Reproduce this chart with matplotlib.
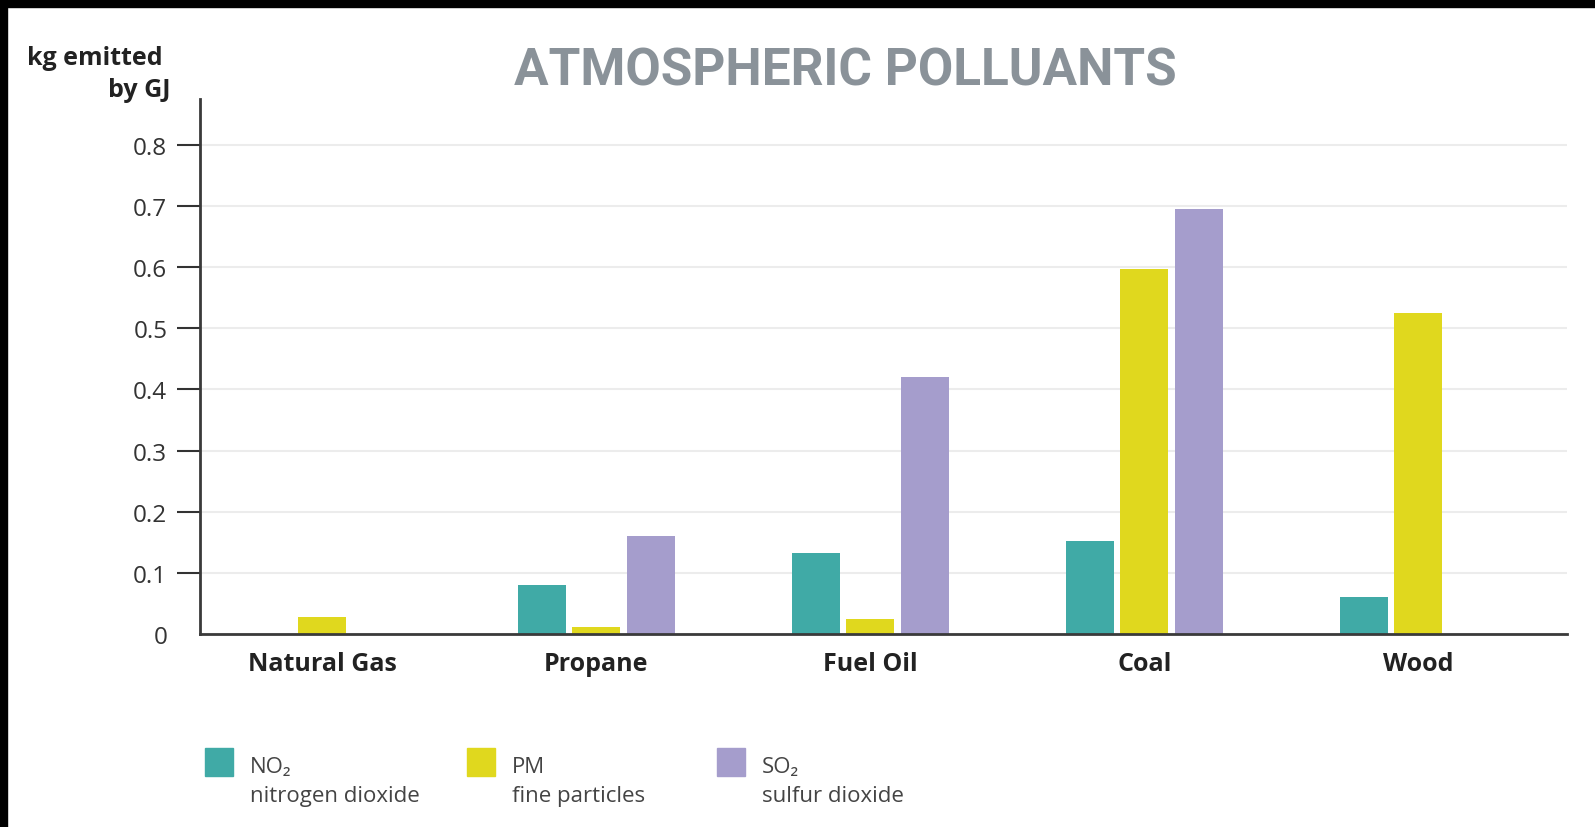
import matplotlib.pyplot as plt
from matplotlib.patches import Rectangle
import numpy as np

# data (kg emitted by GJ)
fuels = ["Natural Gas", "Propane", "Fuel Oil", "Coal", "Wood"]
no2 = [0.0, 0.08, 0.133, 0.152, 0.06]
pm = [0.027, 0.011, 0.025, 0.597, 0.525]
so2 = [0.0, 0.16, 0.42, 0.695, 0.0]

series_names = ["NO\u2082", "PM", "SO\u2082"]
series_desc = ["nitrogen dioxide", "fine particles", "sulfur dioxide"]
colors = ["#40aaa6", "#e0d81e", "#a59dcc"]
yticks = [0, 0.1, 0.2, 0.3, 0.4, 0.5, 0.6, 0.7, 0.8]

W, H = 1595, 828
FONT = ["Open Sans", "DejaVu Sans"]
DARK = "#333333"

fig = plt.figure(figsize=(W / 100, H / 100), dpi=100)
fig.patch.set_facecolor("white")

# black frame strips at top and left, as in the screenshot
fig.add_artist(Rectangle((0, 1 - 8 / H), 1, 8 / H, transform=fig.transFigure,
                         color="black", zorder=10))
fig.add_artist(Rectangle((0, 0), 7 / W, 1, transform=fig.transFigure,
                         color="black", zorder=10))

ax = fig.add_axes([200 / W, 193 / H, (1567 - 200) / W, (635 - 100) / H])

x = np.arange(len(fuels))
width = 0.175
step = 0.199
for i, (vals, col) in enumerate(zip([no2, pm, so2], colors)):
    ax.bar(x + (i - 1) * step, vals, width, color=col, zorder=3)

ax.set_xlim(-0.447, 4.543)
ax.set_ylim(0, 0.875)

ax.set_yticks(yticks)
ax.set_yticklabels(["0" if v == 0 else f"{v:.1f}" for v in yticks],
                   family=FONT, fontsize=17.5, color=DARK)
ax.tick_params(axis="y", length=16.5, width=1.5, color=DARK, pad=7)
ax.yaxis.get_major_ticks()[0].tick1line.set_visible(False)

ax.set_xticks(x)
ax.set_xticklabels(fuels, family=FONT, fontsize=18, fontweight="bold",
                   color="#222222")
ax.tick_params(axis="x", length=0, pad=12.5)

ax.grid(axis="y", color="#ececec", linewidth=1.5, zorder=0)
ax.set_axisbelow(True)
for side in ["top", "right"]:
    ax.spines[side].set_visible(False)
for side in ["left", "bottom"]:
    ax.spines[side].set_color("#3a3a3a")
    ax.spines[side].set_linewidth(2.0)
ax.spines["bottom"].set_zorder(4)

# title and y unit label
fig.text(845 / W, 1 - 86 / H, "ATMOSPHERIC POLLUANTS", family=["Roboto", "DejaVu Sans"],
         fontsize=37, fontweight="bold", color="#8a9299", ha="center", va="baseline")
fig.text(163 / W, 1 - 65 / H, "kg emitted", family=FONT, fontsize=18,
         fontweight="bold", color="#222222", ha="right", va="baseline")
fig.text(170 / W, 1 - 97 / H, "by GJ", family=FONT, fontsize=18,
         fontweight="bold", color="#222222", ha="right", va="baseline")

# legend squares with two-line labels
sq_left = [205, 467, 717]
txt_left = [250, 512, 762]
for name, desc, col, sx, tx in zip(series_names, series_desc, colors, sq_left, txt_left):
    fig.add_artist(Rectangle((sx / W, 1 - 777 / H), 28 / W, 28 / H,
                             transform=fig.transFigure, color=col))
    fig.text(tx / W, 1 - 773 / H, name, family=FONT, fontsize=16,
             color="#444444", ha="left", va="baseline")
    fig.text(tx / W, 1 - 802 / H, desc, family=FONT, fontsize=16,
             color="#444444", ha="left", va="baseline")

fig.savefig("out.png", dpi=100, facecolor="white")
